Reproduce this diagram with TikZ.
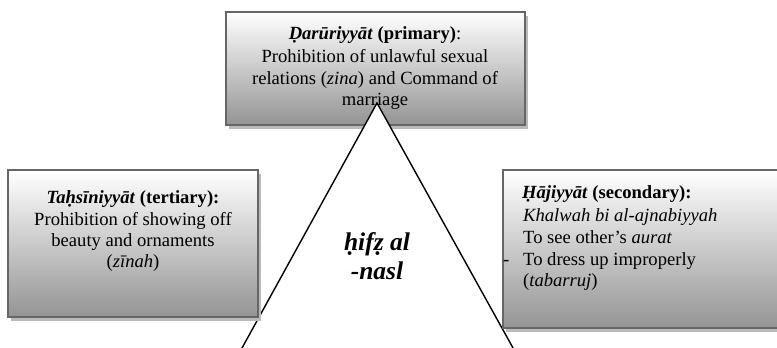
\documentclass[tikz,border=0pt]{standalone}
\usepackage{fontspec}
\setmainfont{Liberation Serif}
\usetikzlibrary{shadows}
\tikzset{
  panel/.style={draw=black!60, line width=2pt, top color=white, bottom color=black!42,
    inner sep=0pt, drop shadow={shadow xshift=3pt, shadow yshift=-4pt, fill=black!27, opacity=1}},
  txt/.style={inner sep=0pt, anchor=base, font=\fontsize{18.6}{21.5}\selectfont},
  ltxt/.style={inner sep=0pt, anchor=base west, font=\fontsize{18.6}{21.5}\selectfont},
  bigtxt/.style={inner sep=0pt, anchor=base, font=\fontsize{25.5}{29}\selectfont\bfseries\itshape},
  tri/.style={draw=black, fill=white, line width=1.4pt, line join=miter}
}
\begin{document}
\begin{tikzpicture}[x=1pt,y=-1pt]
\useasboundingbox (0,0) rectangle (777,348);
\clip (0,0) rectangle (777,348);
% top box
\node[panel, minimum width=299pt, minimum height=113pt] (topbox) at (375.5,68.5) {};
% triangle
\coordinate (apex) at (377,103);
\coordinate (bl) at (235.4,360);
\coordinate (br) at (519.7,360);
\filldraw[tri] (bl) -- (apex) -- (br);
% side boxes
\node[panel, minimum width=250pt, minimum height=147pt] (leftbox) at (133,243.5) {};
\node[panel, minimum width=286pt, minimum height=158pt] (rightbox) at (646,249) {};
% top box text
\node[txt] (t1) at (375,39) {\textbf{\textit{Ḍarūriyyāt}} \textbf{(primary)}:};
\node[txt] (t2) at (375,62) {Prohibition of unlawful sexual};
\node[txt] (t3) at (375,84) {relations (\textit{zina}) and Command of};
\node[txt] (t4) at (375,105) {marriage};
% left box text
\node[txt] (l1) at (133,203) {\textbf{\textit{Taḥsīniyyāt} (tertiary):}};
\node[txt] (l2) at (133,225) {Prohibition of showing off};
\node[txt] (l3) at (133,246) {beauty and ornaments};
\node[txt] (l4) at (133,267) {(\textit{zīnah})};
% right box text
\node[ltxt] (r1) at (522,198) {\textbf{\textit{Ḥājiyyāt} (secondary):}};
\node[ltxt] (r2) at (523,221) {\textit{Khalwah bi al-ajnabiyyah}};
\node[ltxt] (r3) at (523,243) {To see other’s \textit{aurat}};
\node[ltxt] (rd) at (503,265) {-};
\node[ltxt] (r4) at (523,265) {To dress up improperly};
\node[ltxt] (r5) at (523,286) {(\textit{tabarruj})};
% triangle text
\node[bigtxt] (h1) at (377,250) {ḥifẓ al};
\node[bigtxt] (h2) at (377,279) {-nasl};
\end{tikzpicture}
\end{document}
